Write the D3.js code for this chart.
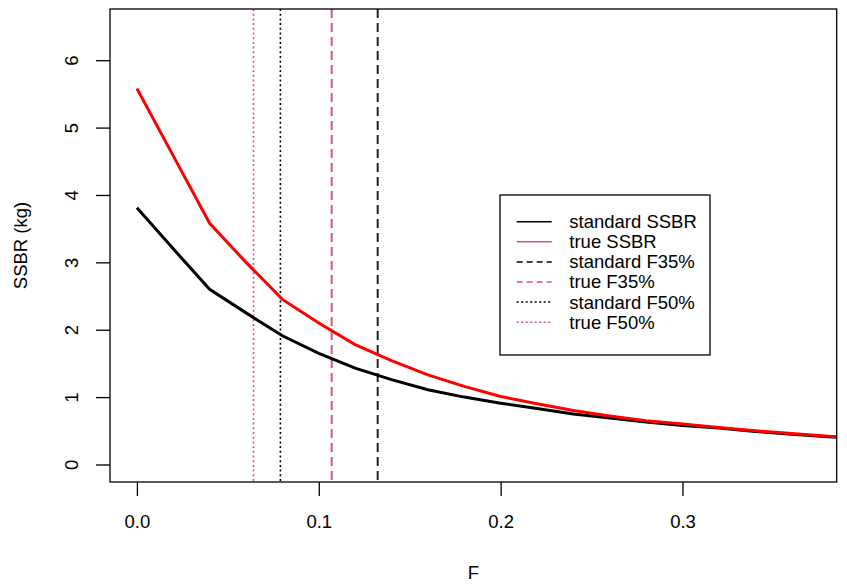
<!DOCTYPE html>
<html>
<head>
<meta charset="utf-8">
<script src="https://cdn.jsdelivr.net/npm/d3@7"></script>
<style>
  body { margin: 0; background: #fff; }
  svg text { font-family: "Liberation Sans", Arial, sans-serif; fill: #000; }
</style>
</head>
<body>
<div id="chart"></div>
<script>
// fishing mortality grid and spawning stock biomass per recruit
var fValues = [0, 0.02, 0.04, 0.06, 0.08, 0.10, 0.12, 0.14, 0.16, 0.18, 0.20,
               0.22, 0.24, 0.26, 0.28, 0.30, 0.32, 0.34, 0.36, 0.38, 0.40];
var standardSSBR = [3.81, 3.20, 2.60, 2.25, 1.91, 1.65, 1.43, 1.26, 1.11, 1.00, 0.91,
                    0.83, 0.75, 0.69, 0.63, 0.58, 0.54, 0.49, 0.45, 0.41, 0.38];
var trueSSBR = [5.58, 4.58, 3.58, 3.00, 2.45, 2.10, 1.78, 1.54, 1.33, 1.16, 1.01,
                0.90, 0.80, 0.72, 0.65, 0.60, 0.55, 0.50, 0.46, 0.42, 0.39];

// reference points
var refNames = ["standard F35%", "true F35%", "standard F50%", "true F50%"];
var refValues = [0.1324, 0.1071, 0.0789, 0.0641];

var xTicks = [0, 0.1, 0.2, 0.3];
var yTicks = [0, 1, 2, 3, 4, 5, 6];

var legendLabels = ["standard SSBR", "true SSBR", "standard F35%", "true F35%", "standard F50%", "true F50%"];

var W = 847, H = 586;
var plotLeft = 110, plotTop = 9, plotRight = 836.7, plotBottom = 482;
var fontSize = 18.5;
var pink = "#DF536B";

// R style limits: xlim c(0,0.37), ylim c(0,6.5) with 4% padding
var x = d3.scaleLinear().domain([0 - 0.37 * 0.04, 0.37 * 1.04]).range([plotLeft, plotRight]);
var y = d3.scaleLinear().domain([0 - 6.5 * 0.04, 6.5 * 1.04]).range([plotBottom, plotTop]);

var svg = d3.select("#chart").append("svg")
    .attr("width", W)
    .attr("height", H);

svg.append("clipPath").attr("id", "clip")
  .append("rect")
    .attr("x", plotLeft).attr("y", plotTop)
    .attr("width", plotRight - plotLeft).attr("height", plotBottom - plotTop);

var plot = svg.append("g").attr("clip-path", "url(#clip)");

// vertical reference lines
var refStyles = [
    {color: "#222", dash: "9,5"},
    {color: pink, dash: "9,5"},
    {color: "#000", dash: "2,2.7"},
    {color: pink, dash: "2,2.7"}
];
plot.selectAll(".ref")
    .data(refValues)
    .enter().append("line")
    .attr("class", "ref")
    .attr("x1", function(d) { return x(d); })
    .attr("x2", function(d) { return x(d); })
    .attr("y1", plotTop)
    .attr("y2", plotBottom)
    .style("stroke", function(d, i) { return refStyles[i].color; })
    .style("stroke-dasharray", function(d, i) { return refStyles[i].dash; })
    .style("stroke-width", function(d, i) { return i < 2 ? 2 : 1.6; });

var line = d3.line()
    .x(function(d) { return x(d[0]); })
    .y(function(d) { return y(d[1]); });

plot.append("path")
    .datum(d3.zip(fValues, standardSSBR))
    .attr("d", line)
    .style("fill", "none")
    .style("stroke", "#000")
    .style("stroke-width", 3);

plot.append("path")
    .datum(d3.zip(fValues, trueSSBR))
    .attr("d", line)
    .style("fill", "none")
    .style("stroke", "#FF0000")
    .style("stroke-width", 3);

// axes
var xAxis = svg.append("g")
    .attr("transform", `translate(0,${plotBottom})`)
    .call(d3.axisBottom(x).tickValues(xTicks).tickFormat(d3.format(".1f")).tickSize(14).tickPadding(19));
xAxis.select(".domain").remove();
xAxis.selectAll("line").style("stroke", "#000").style("stroke-width", 1.3);
xAxis.selectAll("text").style("font-size", fontSize + "px").style("fill", "#000");

var yAxis = svg.append("g")
    .attr("transform", `translate(${plotLeft},0)`)
    .call(d3.axisLeft(y).tickValues(yTicks).tickFormat(d3.format("d")).tickSize(14));
yAxis.select(".domain").remove();
yAxis.selectAll("line").style("stroke", "#000").style("stroke-width", 1.3);
yAxis.selectAll("text")
    .attr("x", 0)
    .attr("dy", 0)
    .attr("text-anchor", "middle")
    .attr("transform", "translate(-32,0) rotate(-90)")
    .style("font-size", fontSize + "px")
    .style("fill", "#000");

// frame
svg.append("rect")
    .attr("x", plotLeft).attr("y", plotTop)
    .attr("width", plotRight - plotLeft).attr("height", plotBottom - plotTop)
    .style("fill", "none")
    .style("stroke", "#000")
    .style("stroke-width", 1.3);

// axis titles
svg.append("text")
    .attr("x", (plotLeft + plotRight) / 2)
    .attr("y", 579)
    .attr("text-anchor", "middle")
    .style("font-size", fontSize + "px")
    .text("F");

svg.append("text")
    .attr("transform", `translate(27,${(plotTop + plotBottom) / 2}) rotate(-90)`)
    .attr("text-anchor", "middle")
    .style("font-size", fontSize + "px")
    .text("SSBR (kg)");

// legend
var legendStyles = [
    {color: "#000", dash: null},
    {color: pink, dash: null},
    {color: "#000", dash: "6,4"},
    {color: pink, dash: "6,4"},
    {color: "#000", dash: "2,2.5"},
    {color: pink, dash: "2,2.5"}
];
var legend = svg.append("g");
legend.append("rect")
    .attr("x", 500).attr("y", 195)
    .attr("width", 210).attr("height", 160)
    .style("fill", "#fff")
    .style("stroke", "#000")
    .style("stroke-width", 1.3);

var rows = legend.selectAll(".row")
    .data(legendLabels)
    .enter().append("g")
    .attr("class", "row")
    .attr("transform", function(d, i) { return `translate(0,${221.7 + i * 20.1})`; });

rows.append("line")
    .attr("x1", 516.7).attr("x2", 551.7)
    .attr("y1", 0).attr("y2", 0)
    .style("stroke", function(d, i) { return legendStyles[i].color; })
    .style("stroke-dasharray", function(d, i) { return legendStyles[i].dash; })
    .style("stroke-width", 1.5);

rows.append("text")
    .attr("x", 569.3)
    .attr("dy", "0.35em")
    .style("font-size", fontSize + "px")
    .text(function(d) { return d; });
</script>
</body>
</html>
